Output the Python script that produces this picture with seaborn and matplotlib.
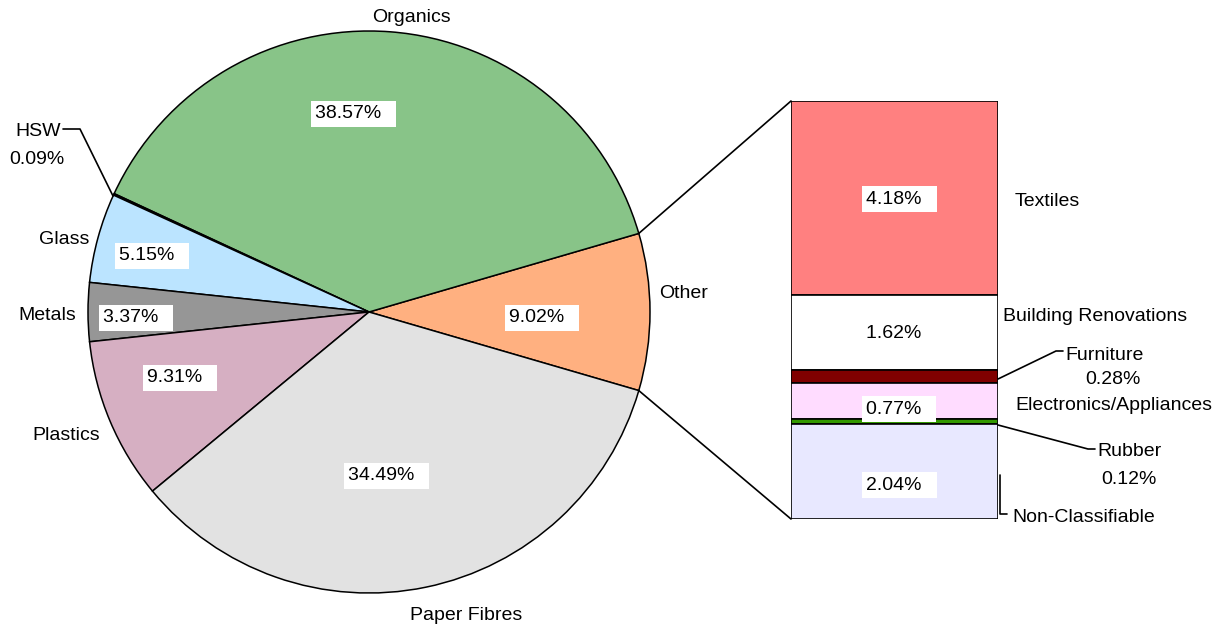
import numpy as np
import matplotlib.pyplot as plt
from matplotlib.patches import ConnectionPatch
from matplotlib.lines import Line2D
import seaborn as sns

# pie data (waste composition, %)
pie_labels = ['Other', 'Organics', 'HSW', 'Glass', 'Metals', 'Plastics', 'Paper Fibres']
pie_values = [9.02, 38.57, 0.09, 5.15, 3.37, 9.31, 34.49]
pie_colors = ['#FFB080', '#88C488', '#700070', '#BBE4FF', '#969696', '#D6AFC2', '#E2E2E2']

# breakdown of "Other" (top to bottom)
bar_labels = ['Textiles', 'Building Renovations', 'Furniture', 'Electronics/Appliances',
              'Rubber', 'Non-Classifiable']
bar_values = [4.18, 1.62, 0.28, 0.77, 0.12, 2.04]
bar_colors = ['#FF8080', '#FFFFFF', '#800000', '#FFDCFF', '#339900', '#E8E8FF']

W, H = 1221, 629
sns.set_theme(style="white")
plt.rcParams['font.family'] = ['Liberation Sans', 'DejaVu Sans']
plt.rcParams['text.color'] = 'black'

fig = plt.figure(figsize=(W / 100, H / 100), dpi=100)


def fx(x, y):
    return x / W, 1 - y / H


# pie axes: centre (369, 312), radius 281 px
r_px = 281
cx, cy = 369, 312
half = 1.1 * r_px
ax1 = fig.add_axes([(cx - half) / W, (H - cy - half) / H, 2 * half / W, 2 * half / H])
start = -pie_values[0] * 1.8
wedges, _ = ax1.pie(pie_values, colors=pie_colors, startangle=start, counterclock=True,
                    radius=1, wedgeprops=dict(edgecolor='black', linewidth=1.1))
ax1.set_xlim(-1.1, 1.1)
ax1.set_ylim(-1.1, 1.1)
ax1.axis('off')

# stacked bar axes
ax2 = fig.add_axes([791 / W, (H - 519) / H, 207 / W, 418 / H])
total = sum(bar_values)
bottom = 0
for v, c in zip(bar_values, bar_colors):
    ax2.bar(0, v, bottom=bottom, width=1, color=c, edgecolor='black', linewidth=1.2)
    bottom += v
ax2.set_xlim(-0.5, 0.5)
ax2.set_ylim(total, 0)
ax2.axis('off')

# connection lines
th1, th2 = np.deg2rad(wedges[0].theta1), np.deg2rad(wedges[0].theta2)
for th, yb in [(th2, 0), (th1, total)]:
    con = ConnectionPatch(xyA=(np.cos(th), np.sin(th)), coordsA=ax1.transData,
                          xyB=(-0.5, yb), coordsB=ax2.transData,
                          color='black', linewidth=1.2)
    fig.add_artist(con)

fs = 14
box = dict(boxstyle='square,pad=0.22', facecolor='white', edgecolor='none')

# percent boxes: (text, left x, centre y)
pct_pos = [('38.57%', 315, 114), ('9.02%', 509, 318), ('34.49%', 348, 476),
           ('9.31%', 147, 378), ('3.37%', 103, 318), ('5.15%', 119, 256),
           ('4.18%', 866, 199), ('1.62%', 866, 333), ('0.77%', 866, 409),
           ('2.04%', 866, 485)]
for t, x, y in pct_pos:
    fig.text(*fx(x, y), t + '  ', fontsize=fs, ha='left', va='center', bbox=box)

# category labels: (text, x, y, ha)
cat_pos = [('Organics', 411, 18, 'center'), ('Other', 659, 293, 'left'),
           ('Paper Fibres', 466, 615, 'center'), ('Plastics', 66, 436, 'center'),
           ('Metals', 47, 316, 'center'), ('Glass', 64, 239, 'center'),
           ('HSW', 38, 131, 'center'), ('0.09%', 37, 160, 'center'),
           ('Textiles', 1015, 202, 'left'), ('Building Renovations', 1003, 317, 'left'),
           ('Furniture', 1065, 355, 'left'), ('0.28%', 1113, 380, 'center'),
           ('Electronics/Appliances', 1015, 406, 'left'), ('Rubber', 1097, 451, 'left'),
           ('0.12%', 1129, 480, 'center'), ('Non-Classifiable', 1012, 518, 'left')]
for t, x, y, ha in cat_pos:
    fig.text(*fx(x, y), t, fontsize=fs, ha=ha, va='center')

# leader lines
leaders = [[(63, 129), (80, 129), (113, 196)],
           [(998, 379), (1056, 351), (1063, 351)],
           [(998, 425), (1088, 449), (1095, 449)],
           [(1000, 475), (1000, 514), (1007, 514)]]
for pts in leaders:
    xs = [p[0] / W for p in pts]
    ys = [1 - p[1] / H for p in pts]
    fig.add_artist(Line2D(xs, ys, color='black', linewidth=1.2))

fig.savefig('out.png', dpi=100, facecolor='white')
